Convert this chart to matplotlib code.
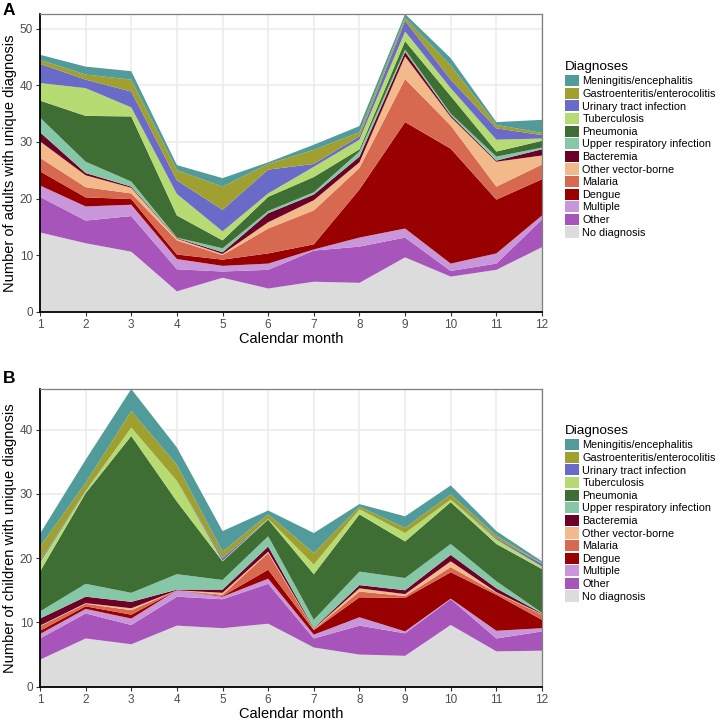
import numpy as np
import matplotlib.pyplot as plt
from matplotlib.patches import Patch

plt.rcParams['font.family'] = ['Liberation Sans', 'DejaVu Sans']

months = np.arange(1, 13)

# Diagnoses, bottom to top of the stack
diagnoses = ['No diagnosis', 'Other', 'Multiple', 'Dengue', 'Malaria',
             'Other vector-borne', 'Bacteremia', 'Upper respiratory infection',
             'Pneumonia', 'Tuberculosis', 'Urinary tract infection',
             'Gastroenteritis/enterocolitis', 'Meningitis/encephalitis']
colors = ['#DCDCDC', '#A755BA', '#C996D9', '#990000', '#D6694F', '#F2BA8A',
          '#6B0029', '#86C7A8', '#3F6E35', '#B5DB72', '#6A6AC8', '#A0A030',
          '#529B9B']

# Panel A: adults (months 1..12)
adults_none = [14.0, 12.1, 10.6, 3.6, 6.0, 4.1, 5.3, 5.1, 9.6, 6.2, 7.4, 11.4]
adults_other = [6.3, 4.0, 6.3, 3.9, 1.1, 3.3, 5.5, 6.4, 3.5, 1.0, 1.1, 4.9]
adults_multiple = [2.0, 2.5, 2.0, 1.8, 1.0, 1.1, 0.2, 1.6, 1.6, 1.3, 1.8, 0.7]
adults_dengue = [2.5, 1.6, 1.0, 0.8, 1.1, 1.8, 0.9, 8.5, 18.8, 20.3, 9.5, 6.4]
adults_malaria = [2.4, 1.8, 1.0, 2.5, 0.8, 4.4, 6.0, 3.8, 7.6, 4.1, 2.3, 2.6]
adults_vector = [2.9, 2.1, 1.0, 0.3, 0.2, 1.1, 1.8, 1.0, 4.0, 1.5, 4.4, 1.6]
adults_bact = [1.6, 0.4, 0.2, 0.1, 0.3, 1.6, 1.0, 1.0, 0.8, 0.3, 0.2, 1.1]
adults_uri = [2.6, 2.0, 0.9, 0.1, 0.7, 0.4, 0.4, 0.9, 0.4, 0.3, 0.7, 0.3]
adults_pneu = [3.0, 8.1, 11.5, 3.9, 1.4, 2.5, 2.7, 0.4, 1.5, 3.1, 0.9, 1.2]
adults_tb = [3.1, 4.9, 1.6, 3.8, 1.6, 0.6, 1.8, 1.7, 1.7, 1.4, 2.1, 0.4]
adults_uti = [3.4, 1.5, 2.8, 2.4, 3.8, 4.2, 0.5, 0.6, 1.9, 1.5, 2.0, 0.6]
adults_gastro = [0.7, 0.9, 2.1, 1.8, 4.1, 1.0, 2.5, 0.7, 0.5, 2.5, 0.6, 0.4]
adults_menin = [0.9, 1.4, 1.5, 0.9, 1.5, 0.3, 0.9, 1.1, 0.7, 1.3, 0.5, 2.3]

# Panel B: children (months 1..12)
child_none = [4.2, 7.5, 6.6, 9.5, 9.1, 9.8, 6.1, 5.0, 4.8, 9.6, 5.5, 5.6]
child_other = [3.3, 3.9, 3.0, 4.5, 4.5, 6.2, 1.4, 4.5, 3.5, 4.0, 2.0, 3.0]
child_multiple = [0.7, 0.7, 1.0, 1.0, 0.4, 0.8, 0.6, 1.3, 0.3, 0.1, 1.2, 0.5]
child_dengue = [0.5, 0.4, 0.6, 0.0, 0.1, 1.4, 0.7, 3.1, 5.2, 4.1, 5.6, 1.3]
child_malaria = [0.7, 0.4, 0.7, 0.0, 0.2, 2.6, 0.1, 0.9, 0.3, 0.8, 0.3, 0.8]
child_vector = [0.1, 0.1, 0.3, 0.0, 0.3, 0.2, 0.1, 0.5, 0.3, 0.9, 0.1, 0.1]
child_bact = [1.1, 1.0, 1.0, 0.1, 0.5, 0.8, 0.1, 0.5, 0.6, 1.0, 0.6, 0.1]
child_uri = [1.1, 2.0, 1.4, 2.4, 1.5, 1.6, 1.3, 2.1, 1.9, 1.7, 1.1, 0.1]
child_pneu = [6.2, 14.1, 24.4, 11.3, 2.9, 2.6, 7.1, 8.9, 5.7, 6.5, 5.8, 6.8]
child_tb = [1.4, 0.3, 1.3, 3.2, 0.1, 0.1, 1.5, 0.8, 1.3, 0.4, 0.7, 0.4]
child_uti = [0.3, 0.1, 0.0, 0.0, 0.4, 0.0, 0.0, 0.0, 0.0, 0.0, 0.2, 0.4]
child_gastro = [2.2, 1.2, 2.6, 2.5, 1.0, 0.7, 1.8, 0.4, 0.8, 0.8, 0.4, 0.1]
child_menin = [2.0, 3.6, 3.4, 2.7, 3.2, 0.6, 3.1, 0.4, 1.8, 1.4, 0.7, 0.3]

adults = [adults_none, adults_other, adults_multiple, adults_dengue, adults_malaria,
          adults_vector, adults_bact, adults_uri, adults_pneu, adults_tb,
          adults_uti, adults_gastro, adults_menin]
children = [child_none, child_other, child_multiple, child_dengue, child_malaria,
            child_vector, child_bact, child_uri, child_pneu, child_tb,
            child_uti, child_gastro, child_menin]

W, H = 716, 720
fig = plt.figure(figsize=(W / 100, H / 100), dpi=100)


def panel(data, top, bottom, ylabel, letter, letter_top, leg_top):
    ax = fig.add_axes([40 / W, 1 - bottom / H, (542 - 40) / W, (bottom - top) / H])
    ax.stackplot(months, np.array(data), colors=colors, linewidth=0, zorder=2)
    total = np.array(data).sum(axis=0)
    ax.set_xlim(1, 12)
    ax.set_ylim(0, total.max())
    ax.set_xticks(months)
    ax.set_yticks(np.arange(0, total.max() + 0.1, 10))
    ax.grid(True, color='#EBEBEB', linewidth=1.1, zorder=0)
    ax.set_axisbelow(True)
    for s in ['top', 'right']:
        ax.spines[s].set_color('#7F7F7F')
        ax.spines[s].set_linewidth(0.9)
    for s in ['left', 'bottom']:
        ax.spines[s].set_color('black')
        ax.spines[s].set_linewidth(1.3)
    ax.tick_params(direction='out', length=3, width=0.8, colors='#333333',
                   labelsize=8.5, labelcolor='#4D4D4D', pad=2)
    ax.set_xlabel('Calendar month', fontsize=10.5, labelpad=1)
    ax.set_ylabel(ylabel, fontsize=10.5, labelpad=2)
    fig.text(3 / W, 1 - letter_top / H, letter, fontsize=12.5, fontweight='bold',
             va='top', ha='left')
    handles = [Patch(facecolor=c, edgecolor='none', label=l)
               for c, l in zip(colors[::-1], diagnoses[::-1])]
    leg = ax.legend(handles=handles, title='Diagnoses', loc='upper left',
                    bbox_to_anchor=(565 / W, 1 - leg_top / H),
                    bbox_transform=fig.transFigure, frameon=False,
                    fontsize=7.8, title_fontsize=9.7, handlelength=1.25,
                    handleheight=1.2, handletextpad=0.35, labelspacing=0.13,
                    borderpad=0, borderaxespad=0)
    leg._legend_box.align = 'left'
    leg._legend_box.sep = 1.5
    return ax


panel(adults, 14, 311.7, 'Number of adults with unique diagnosis', 'A', 3, 61)
panel(children, 389, 686.7, 'Number of children with unique diagnosis', 'B', 371, 425)

fig.savefig('out.png', dpi=100)
